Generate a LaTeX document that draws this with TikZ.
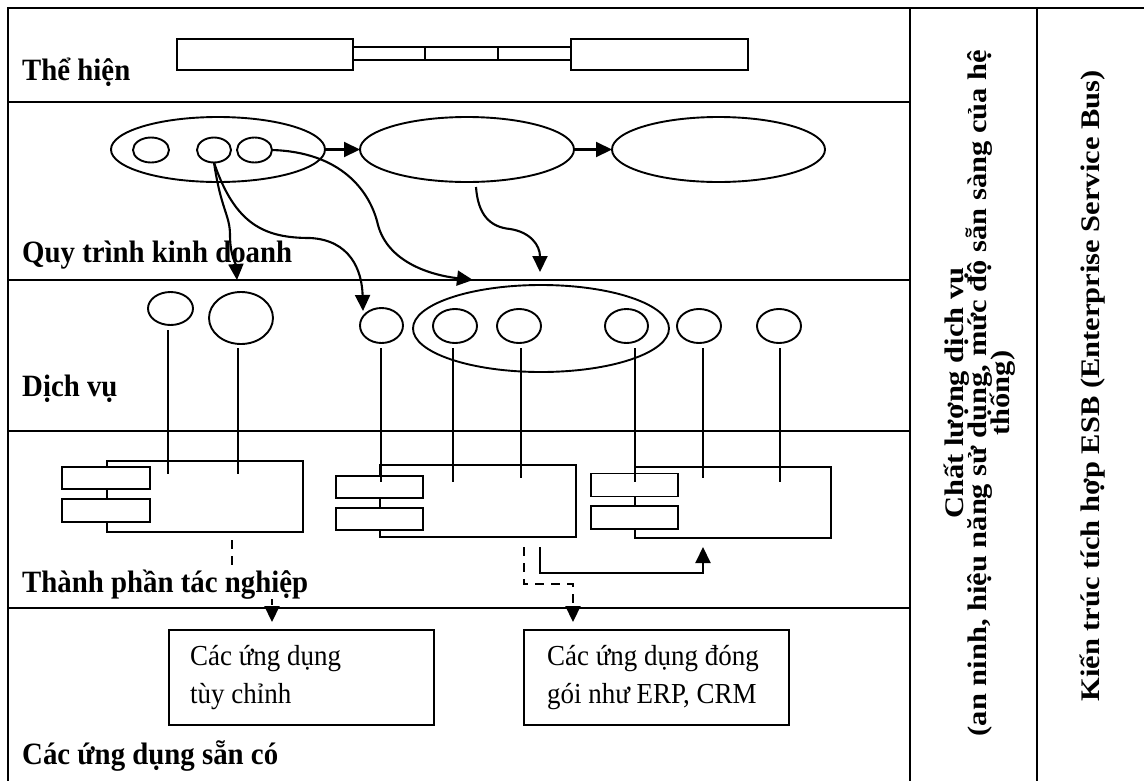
\documentclass[tikz,border=0pt]{standalone}
\usepackage{fontspec}
\setmainfont{Liberation Serif}
\usetikzlibrary{shapes.geometric,arrows.meta}
\newcommand\mytightlines{\lineskiplimit=-50pt\relax}
\tikzset{
  frameline/.style={line width=2.8pt},
  shp/.style={draw, line width=1.9pt, inner sep=0pt, outer sep=0pt},
  ell/.style={shp, ellipse},
  boxx/.style={shp, rectangle},
  sbox/.style={shp, rectangle, fill=white},
  conn/.style={line width=2.1pt},
  arr/.style={conn, -{Triangle[length=16pt,width=15pt]}},
  darr/.style={conn, dash pattern=on 9pt off 7pt, -{Triangle[length=16pt,width=15pt]}},
  lbl/.style={font=\fontsize{31}{31}\selectfont\bfseries, anchor=base west, inner sep=0pt, xscale=0.93},
  txt/.style={font=\fontsize{29}{29}\selectfont, anchor=base west, inner sep=0pt, xscale=0.93},
  vtxt/.style={font=\fontsize{30.5}{26}\selectfont\bfseries\mytightlines, rotate=90, yscale=0.88, align=center, inner sep=0pt},
}
\begin{document}
\begin{tikzpicture}[x=1pt,y=-1pt]
\fill[white] (0,0) rectangle (1144,780);
\useasboundingbox (0,0) rectangle (1144,780);
% frame (open at the bottom and right, as cropped)
\draw[frameline] (8,781) -- (8,8) -- (1145,8);
\draw[frameline] (910,8) -- (910,781);
\draw[frameline] (1037,8) -- (1037,781);
\draw[frameline] (8,102) -- (910,102);
\draw[frameline] (8,280) -- (910,280);
\draw[frameline] (8,431) -- (910,431);
\draw[frameline] (8,608) -- (910,608);
% row labels
\node[lbl] (l1) at (22,80) {Thể hiện};
\node[lbl] (l2) at (22,262) {Quy trình kinh doanh};
\node[lbl] (l3) at (22,396) {Dịch vụ};
\node[lbl] (l5) at (22,764) {Các ứng dụng sẵn có};
% presentation bar
\node[boxx, minimum width=176pt, minimum height=31pt] (barL) at (265,54.5) {};
\node[boxx, minimum width=177pt, minimum height=31pt] (barR) at (659.5,54.5) {};
\node[boxx, minimum width=72pt, minimum height=13pt] (bar1) at (389,53.5) {};
\node[boxx, minimum width=73pt, minimum height=13pt] (bar2) at (461.5,53.5) {};
\node[boxx, minimum width=73pt, minimum height=13pt] (bar3) at (534.5,53.5) {};
% business process
\node[ell, minimum width=214pt, minimum height=65pt] (e1) at (218,149.5) {};
\node[ell, minimum width=214pt, minimum height=65pt] (e2) at (467,149.5) {};
\node[ell, minimum width=213pt, minimum height=65pt] (e3) at (718.5,149.5) {};
\node[ell, minimum width=36pt, minimum height=25pt] (p1) at (151,150) {};
\node[ell, minimum width=34pt, minimum height=25pt] (p2) at (214,150) {};
\node[ell, minimum width=35pt, minimum height=25pt] (p3) at (254.5,150) {};
\draw[arr] (e1) -- (e2);
\draw[arr] (e2) -- (e3);
% services
\node[ell, minimum width=45pt, minimum height=33pt] (sA) at (170.5,308.5) {};
\node[ell, minimum width=64pt, minimum height=52pt] (sB) at (241,318) {};
\node[ell, minimum width=43pt, minimum height=35pt] (sC) at (381.5,325.5) {};
\node[ell, minimum width=256pt, minimum height=87pt] (grp) at (541,328.5) {};
\node[ell, minimum width=44pt, minimum height=34pt] (sD) at (455,326) {};
\node[ell, minimum width=44pt, minimum height=34pt] (sE) at (519,326) {};
\node[ell, minimum width=43pt, minimum height=34pt] (sF) at (626.5,326) {};
\node[ell, minimum width=44pt, minimum height=34pt] (sG) at (699,326) {};
\node[ell, minimum width=44pt, minimum height=34pt] (sH) at (779,326) {};
% process -> service curves
\coordinate (tA) at (237,280);
\coordinate (tC) at (363,311);
\coordinate (tB) at (473,280);
\coordinate (s4) at (476,187);
\coordinate (tD) at (540,272);
\draw[arr] (p2.south) .. controls (221,210) and (230,215) .. (230,235) .. controls (230,255) and (236,265) .. (tA);
\draw[arr] (p2.south) .. controls (235,225) and (265,238) .. (310,238) .. controls (350,240) and (362,270) .. (tC);
\draw[arr] (p3.east) .. controls (340,152) and (370,190) .. (378,225) .. controls (388,262) and (430,275) .. (tB);
\draw[arr] (s4) .. controls (478,215) and (490,227) .. (510,229) .. controls (530,232) and (540,245) .. (tD);
% components
\node[boxx, minimum width=196pt, minimum height=71pt] (k1) at (205,496.5) {};
\node[sbox, minimum width=88pt, minimum height=22pt] (k1a) at (106,478) {};
\node[sbox, minimum width=88pt, minimum height=23pt] (k1b) at (106,510.5) {};
\node[boxx, minimum width=196pt, minimum height=72pt] (k2) at (478,501) {};
\node[sbox, minimum width=87pt, minimum height=22pt] (k2a) at (379.5,487) {};
\node[sbox, minimum width=87pt, minimum height=22pt] (k2b) at (379.5,519) {};
\node[boxx, minimum width=196pt, minimum height=71pt] (k3) at (733,502.5) {};
\node[sbox, minimum width=87pt, minimum height=23pt] (k3a) at (634.5,485) {};
\node[sbox, minimum width=87pt, minimum height=23pt] (k3b) at (634.5,517.5) {};
% service -> component lines
\coordinate (eA) at (168,474);
\coordinate (eB) at (238,474);
\coordinate (eC) at (381,482);
\coordinate (eD) at (453,482);
\coordinate (eE) at (521,478);
\coordinate (eF) at (635,482);
\coordinate (eG) at (703,478);
\coordinate (eH) at (780,482);
\draw[conn] (sA.south -| eA) ++(0,5) -- (eA);
\draw[conn] (sB.south -| eB) ++(0,4) -- (eB);
\draw[conn] (sC.south -| eC) ++(0,5) -- (eC);
\draw[conn] (sD.south -| eD) ++(0,5) -- (eD);
\draw[conn] (sE.south -| eE) ++(0,5) -- (eE);
\draw[conn] (sF.south -| eF) ++(0,5) -- (eF);
\draw[conn] (sG.south -| eG) ++(0,5) -- (eG);
\draw[conn] (sH.south -| eH) ++(0,5) -- (eH);
% applications
\node[boxx, minimum width=265pt, minimum height=95pt] (app1) at (301.5,677.5) {};
\node[boxx, minimum width=265pt, minimum height=95pt] (app2) at (656.5,677.5) {};
\node[txt] (a1l1) at (190,665) {Các ứng dụng};
\node[txt] (a1l2) at (190,703) {tùy chỉnh};
\node[txt] (a2l1) at (547,665) {Các ứng dụng đóng};
\node[txt] (a2l2) at (547,703) {gói như ERP, CRM};
% component -> application links
\coordinate (d1s) at (232,540);
\coordinate (d1e) at (272,622);
\coordinate (d2s) at (524,547);
\coordinate (d2e) at (573,622);
\coordinate (r1s) at (540,547);
\coordinate (r1e) at (703,547);
\draw[darr] (d1s) -- (232,585) -- (272,585) -- (d1e);
\draw[darr] (d2s) -- (524,584) -- (573,584) -- (d2e);
\draw[arr] (r1s) -- (540,573) -- (703,573) -- (r1e);
\node[lbl, fill=white] (l4) at (22,592) {Thành phần tác nghiệp};
% vertical columns
\node[vtxt] (q) at (980,393) {Chất lượng dịch vụ\\(an ninh, hiệu năng sử dụng, mức độ sẵn sàng của hệ\\thống)};
\node[vtxt] (esb) at (1093,386) {Kiến trúc tích hợp ESB (Enterprise Service Bus)};
\end{tikzpicture}
\end{document}
